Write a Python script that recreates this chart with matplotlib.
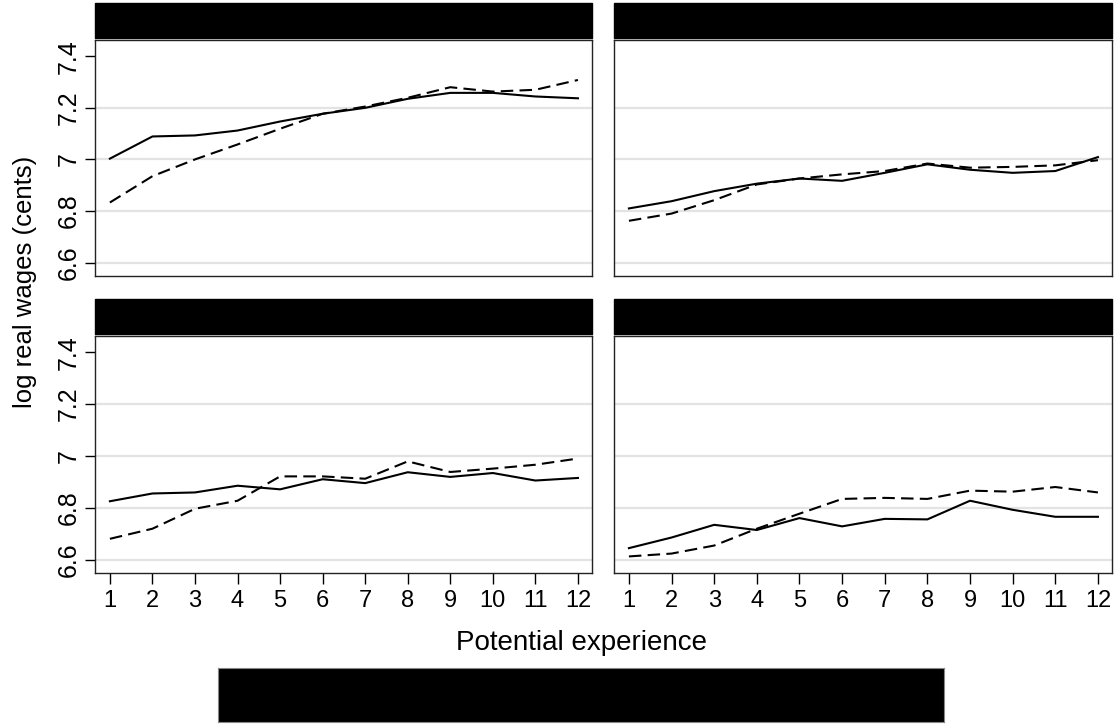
import matplotlib
matplotlib.use("Agg")
import matplotlib.pyplot as plt
from matplotlib.patches import Rectangle
from matplotlib.lines import Line2D

plt.rcParams['font.family'] = ['Liberation Sans', 'DejaVu Sans']

"""Chart data, read off the reference"""
experience = [1, 2, 3, 4, 5, 6, 7, 8, 9, 10, 11, 12]
panel_titles = ["Group 1", "Group 2", "Group 3", "Group 4"]
series_names = ["Natives", "Immigrants"]

solid_tl = [7.003, 7.089, 7.093, 7.112, 7.147, 7.177, 7.200, 7.235, 7.258, 7.258, 7.244, 7.237]
dashed_tl = [6.833, 6.935, 7.000, 7.058, 7.119, 7.177, 7.205, 7.239, 7.280, 7.263, 7.270, 7.308]
solid_tr = [6.810, 6.838, 6.877, 6.906, 6.926, 6.917, 6.948, 6.981, 6.960, 6.948, 6.955, 7.009]
dashed_tr = [6.762, 6.790, 6.842, 6.903, 6.926, 6.942, 6.955, 6.984, 6.968, 6.971, 6.977, 6.997]
solid_bl = [6.825, 6.855, 6.859, 6.885, 6.871, 6.910, 6.895, 6.937, 6.919, 6.934, 6.905, 6.915]
dashed_bl = [6.680, 6.719, 6.796, 6.827, 6.921, 6.921, 6.912, 6.979, 6.938, 6.951, 6.966, 6.990]
solid_br = [6.644, 6.685, 6.734, 6.714, 6.760, 6.728, 6.757, 6.755, 6.827, 6.792, 6.765, 6.765]
dashed_br = [6.612, 6.623, 6.654, 6.719, 6.777, 6.834, 6.838, 6.834, 6.866, 6.862, 6.880, 6.859]

y_ticks = [6.6, 6.8, 7.0, 7.2, 7.4]
y_ticklabels = ["6.6", "6.8", "7", "7.2", "7.4"]
grid_vals = [6.6, 6.8, 7.0, 7.2]

W, H = 1119, 725
fig = plt.figure(figsize=(W / 100, H / 100), dpi=100)

def px_axes(x0, y0, x1, y1):
    return fig.add_axes([x0 / W, 1 - y1 / H, (x1 - x0) / W, (y1 - y0) / H])

panels = [
    (px_axes(95, 40, 592, 276), solid_tl, dashed_tl, True, False),
    (px_axes(614, 40, 1112, 276), solid_tr, dashed_tr, False, False),
    (px_axes(95, 336, 592, 573), solid_bl, dashed_bl, True, True),
    (px_axes(614, 336, 1112, 573), solid_br, dashed_br, False, True),
]

dash = (0, (6, 3))

for i, (ax, s, d, left, bottom) in enumerate(panels):
    for g in grid_vals:
        ax.axhline(g, color='#e3e3e3', lw=1.6, zorder=0)
    ax.plot(experience, s, color='black', lw=1.5, zorder=3)
    ax.plot(experience, d, color='black', lw=1.5, linestyle=dash, zorder=3)
    ax.set_xlim(0.65, 12.33)
    ax.set_ylim(6.548, 7.463)
    for sp in ax.spines.values():
        sp.set_color('#222222')
        sp.set_linewidth(1.0)

    ax.set_yticks(y_ticks)
    if left:
        ax.set_yticklabels(y_ticklabels, rotation=90, va='center', fontsize=18)
        ax.tick_params(axis='y', length=7, width=1, pad=3)
    else:
        ax.tick_params(axis='y', length=0, labelleft=False)

    ax.set_xticks(experience)
    if bottom:
        ax.set_xticklabels([str(v) for v in experience], fontsize=17)
        ax.tick_params(axis='x', length=8, width=1, pad=4)
    else:
        ax.tick_params(axis='x', length=0, labelbottom=False)

    # black title bar above each panel
    bar_h = 35 / (ax.get_position().height * H)
    gap = 2 / (ax.get_position().height * H)
    ax.add_patch(Rectangle((0, 1 + gap), 1, bar_h, transform=ax.transAxes,
                           facecolor='black', edgecolor='black', clip_on=False))
    ax.text(0.5, 1 + gap + bar_h / 2, panel_titles[i], transform=ax.transAxes,
            ha='center', va='center', fontsize=17, color='black')

fig.text(25 / W, 1 - 282 / H, "log real wages (cents)", rotation=90,
         ha='center', va='center', fontsize=18.5)
fig.text(582 / W, 1 - 643 / H, "Potential experience",
         ha='center', va='center', fontsize=20)

# legend box (black background)
lax = px_axes(218, 668, 944, 722)
lax.set_xlim(0, 1)
lax.set_ylim(0, 1)
lax.set_facecolor('black')
lax.set_xticks([])
lax.set_yticks([])
for sp in lax.spines.values():
    sp.set_color('#888888')
lax.add_line(Line2D([0.08, 0.18], [0.5, 0.5], color='black', lw=1.5))
lax.text(0.2, 0.5, series_names[0], va='center', fontsize=17, color='black')
lax.add_line(Line2D([0.52, 0.62], [0.5, 0.5], color='black', lw=1.5, linestyle=dash))
lax.text(0.64, 0.5, series_names[1], va='center', fontsize=17, color='black')

fig.savefig("out.png", dpi=100, facecolor='white')
